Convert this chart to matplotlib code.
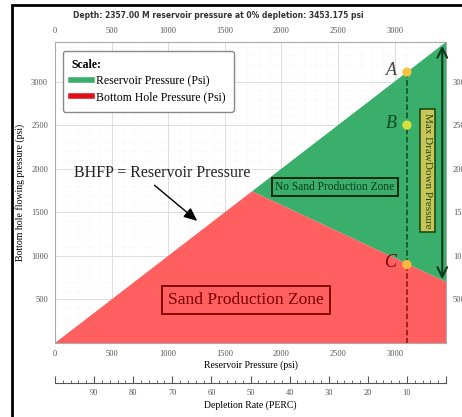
import matplotlib.pyplot as plt
from matplotlib.patches import Polygon, Rectangle
from matplotlib.lines import Line2D
from matplotlib.ticker import MultipleLocator

# data
p_max = 3453.175
res_x = [0, p_max]
res_y = [0, p_max]
bhp_x = [0, 1740, p_max]
bhp_y = [0, 1740, 700]
pt_names = ['A', 'B', 'C']
pt_x = [3108, 3108, 3108]
pt_y = [3108, 2500, 900]
pt_colors = ['#f5c242', '#d6e03a', '#f5b942']
lbl_colors = ['#444444', '#0c4a1f', '#7a0000']
depl_ticks = [0, 10, 20, 30, 40, 50, 60, 70, 80, 90, 100]

green = '#3aae6b'
red = '#ff5f5f'
serif = ['Liberation Serif', 'DejaVu Serif']

fig = plt.figure(figsize=(4.62, 4.17), dpi=100)
ax = fig.add_axes([55 / 462, 74 / 417, 391 / 462, 301 / 417])

# zones
green_poly = Polygon(list(zip(res_x, res_y)) + [(bhp_x[2], bhp_y[2]), (bhp_x[1], bhp_y[1])],
                     closed=True, fc=green, ec='none', zorder=2)
red_poly = Polygon(list(zip(bhp_x, bhp_y)) + [(p_max, 0)], closed=True, fc=red, ec='none', zorder=2)
ax.add_patch(green_poly)
ax.add_patch(red_poly)

ax.set_xlim(0, p_max)
ax.set_ylim(0, p_max)
ax.xaxis.set_major_locator(MultipleLocator(500))
ax.xaxis.set_minor_locator(MultipleLocator(100))
ax.yaxis.set_minor_locator(MultipleLocator(100))
ax.grid(which='major', color='#d8d8d8', lw=0.6, zorder=0)
ax.grid(which='minor', color='#ececec', lw=0.4, ls=':', zorder=0)
ax.set_axisbelow(True)
ax.tick_params(which='both', length=0, top=True, right=True, labeltop=True, labelright=True,
               labelsize=6, labelcolor='#555555', pad=5)
ax.set_yticks([500, 1000, 1500, 2000, 2500, 3000])
for lab in ax.get_xticklabels() + ax.get_yticklabels():
    lab.set_family(serif)
for s in ax.spines.values():
    s.set_color('#aaaaaa')
    s.set_lw(0.8)
ax.set_xlabel('Reservoir Pressure (psi)', fontsize=7, family=serif, labelpad=2)
ax.set_ylabel('Bottom hole flowing pressure (psi)', fontsize=7, family=serif, labelpad=4)

# dashed vertical through A, B, C
ax.plot([pt_x[0], pt_x[2]], [pt_y[0], pt_y[2]], ls='--', color='#0c4a1f', lw=1.1, zorder=4)
ax.plot([pt_x[2], pt_x[2]], [pt_y[2], 0], ls='--', color='#8b1010', lw=1.1, zorder=4)
ax.scatter(pt_x, pt_y, s=45, c=pt_colors, zorder=5, edgecolors='none')
for n, x, y, c in zip(pt_names, pt_x, pt_y, lbl_colors):
    ax.text(x - 90, y + 20, n, ha='right', va='center', fontsize=13, style='italic',
            family=serif, color=c, zorder=6)

# max drawdown arrow
ax.annotate('', xy=(3420, p_max - 10), xytext=(3420, bhp_y[2]),
            arrowprops=dict(arrowstyle='<->,head_width=0.35,head_length=0.7', color='#0d3a1b', lw=1.5),
            zorder=6)
ax.text(3290, 1980, 'Max DrawDown Pressure', rotation=-90, ha='center', va='center', fontsize=8,
        family=serif, color='#1f4f10', zorder=6,
        bbox=dict(boxstyle='square,pad=0.3', fc='#c9c55a', ec='#1f4a10', lw=1.2))

# zone labels
ax.text(2470, 1790, 'No Sand Production Zone', ha='center', va='center', fontsize=8.3,
        family=serif, color='#0b3a18', zorder=6,
        bbox=dict(boxstyle='square,pad=0.3', fc=green, ec='#0b2a12', lw=1.4))
ax.text(1690, 490, 'Sand Production Zone', ha='center', va='center', fontsize=12.5,
        family=serif, color='#7a0000', zorder=6,
        bbox=dict(boxstyle='square,pad=0.35', fc=red, ec='#7a0000', lw=1.3))

# BHFP annotation
ax.text(170, 1950, 'BHFP = Reservoir Pressure', ha='left', va='center', fontsize=11.5,
        family=serif, color='#222222', zorder=6)
ax.annotate('', xy=(1275, 1380), xytext=(860, 1830),
            arrowprops=dict(arrowstyle='-|>,head_width=0.35,head_length=0.8', color='black', lw=1),
            zorder=6)

# legend
handles = [Line2D([0], [0], color=green, lw=4), Line2D([0], [0], color='#e0101a', lw=4)]
leg = ax.legend(handles, ['Reservoir Pressure (Psi)', 'Bottom Hole Pressure (Psi)'],
                loc='upper left', bbox_to_anchor=(0.005, 0.99), title='Scale:', alignment='left',
                prop={'family': serif, 'size': 8.5}, fancybox=True, edgecolor='#888888',
                handlelength=1.8, handletextpad=0.3, borderpad=0.7, labelspacing=0.35, framealpha=1)
leg.get_title().set_fontfamily(serif)
leg.get_title().set_fontweight('bold')
leg.get_title().set_fontsize(8.5)
leg.set_zorder(7)

# depletion axis
ax2 = fig.add_axes([55 / 462, 34 / 417, 391 / 462, 0.001])
ax2.set_xlim(100, 0)
ax2.set_yticks([])
for k in ['top', 'left', 'right']:
    ax2.spines[k].set_visible(False)
ax2.spines['bottom'].set_color('#555555')
ax2.spines['bottom'].set_lw(0.8)
ax2.patch.set_alpha(0)
ax2.set_xticks(depl_ticks)
ax2.set_xticklabels(['' if d in (0, 100) else str(d) for d in depl_ticks], family=serif)
ax2.xaxis.set_minor_locator(MultipleLocator(2))
ax2.tick_params(which='major', direction='in', length=5, width=0.8, labelsize=6,
                labelcolor='#555555', color='#555555', pad=4)
ax2.tick_params(which='minor', direction='in', length=2.5, width=0.6, color='#555555')
ax2.set_xlabel('Depletion Rate (PERC)', fontsize=7, family=serif, labelpad=3)

# title and frame
fig.text(218 / 462, 1 - 15 / 417, 'Depth: 2357.00 M reservoir pressure at 0% depletion: 3453.175 psi',
         ha='center', va='center', fontsize=5.5, fontweight='bold', color='#333333')
fig.patches.append(Rectangle((12 / 462, -0.05), 1.2, 1 - 5 / 417 + 0.05, transform=fig.transFigure,
                             fill=False, ec='black', lw=2))

fig.savefig('out.png', dpi=100)
